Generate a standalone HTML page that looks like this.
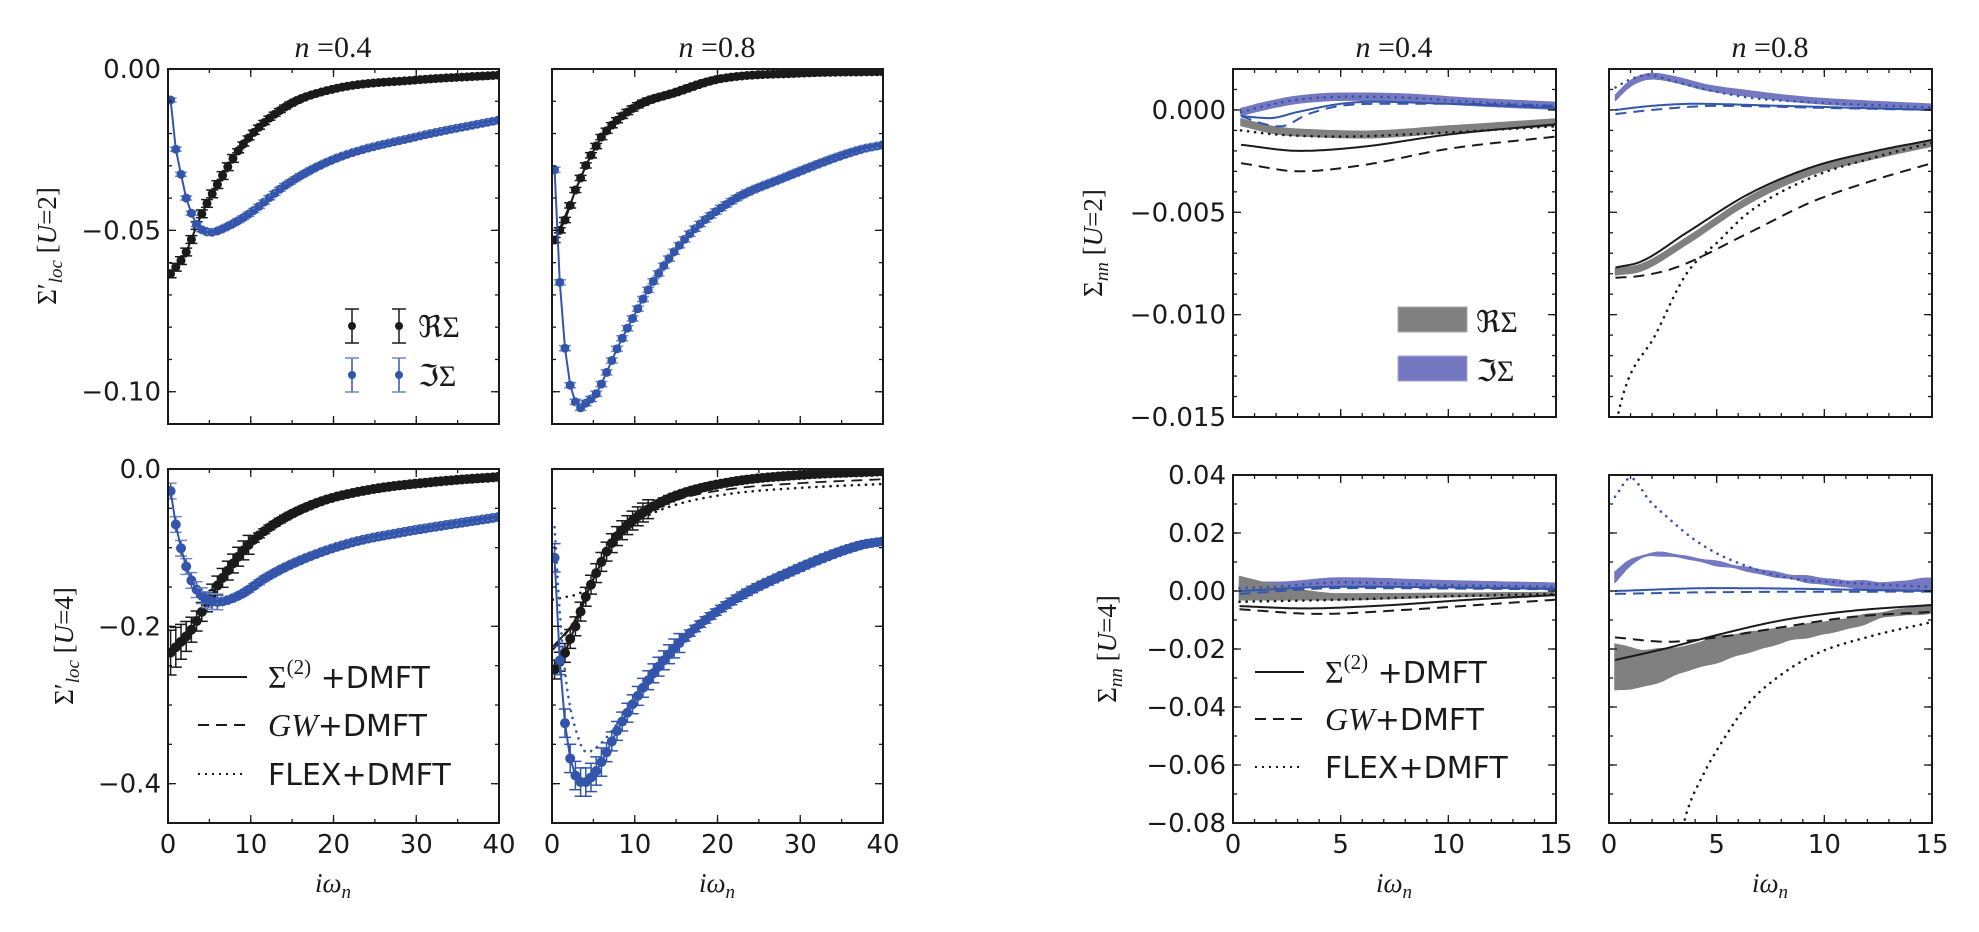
<!DOCTYPE html>
<html><head><meta charset="utf-8"><style>
html,body{margin:0;padding:0;background:#fff;}
svg{display:block;}
.tl{font-family:"DejaVu Sans","Liberation Sans",sans-serif;font-size:26px;fill:#1a1a1a;}
.sf{font-family:"Liberation Serif","DejaVu Serif",serif;fill:#1a1a1a;}
.lg{font-family:"DejaVu Sans","Liberation Sans",sans-serif;font-size:30px;fill:#1a1a1a;}
</style></head><body>
<svg id="s" width="1979" height="932" viewBox="0 0 1979 932" xmlns="http://www.w3.org/2000/svg">
<defs></defs>
<g id="data"></g>
<g id="frames"></g>
<g id="txt">
<text class="sf" x="333" y="57" font-size="30" text-anchor="middle"><tspan font-style="italic">n</tspan> =0.4</text>
<text class="sf" x="717" y="57" font-size="30" text-anchor="middle"><tspan font-style="italic">n</tspan> =0.8</text>
<text class="sf" x="1394" y="57" font-size="30" text-anchor="middle"><tspan font-style="italic">n</tspan> =0.4</text>
<text class="sf" x="1770" y="57" font-size="30" text-anchor="middle"><tspan font-style="italic">n</tspan> =0.8</text>
<text class="sf" font-size="27" text-anchor="middle" transform="translate(56,246) rotate(-90)">Σ′<tspan font-style="italic" font-size="19" dy="6">loc</tspan><tspan dy="-6"> [</tspan><tspan font-style="italic">U</tspan>=2]</text>
<text class="sf" font-size="27" text-anchor="middle" transform="translate(73,646) rotate(-90)">Σ′<tspan font-style="italic" font-size="19" dy="6">loc</tspan><tspan dy="-6"> [</tspan><tspan font-style="italic">U</tspan>=4]</text>
<text class="sf" font-size="27" text-anchor="middle" transform="translate(1102,243) rotate(-90)">Σ<tspan font-style="italic" font-size="19" dy="6">nn</tspan><tspan dy="-6"> [</tspan><tspan font-style="italic">U</tspan>=2]</text>
<text class="sf" font-size="27" text-anchor="middle" transform="translate(1116,649) rotate(-90)">Σ<tspan font-style="italic" font-size="19" dy="6">nn</tspan><tspan dy="-6"> [</tspan><tspan font-style="italic">U</tspan>=4]</text>
<text class="sf" x="333" y="892" font-size="27" text-anchor="middle" font-style="italic">iω<tspan font-size="19" dy="6">n</tspan></text>
<text class="sf" x="717" y="892" font-size="27" text-anchor="middle" font-style="italic">iω<tspan font-size="19" dy="6">n</tspan></text>
<text class="sf" x="1394" y="892" font-size="27" text-anchor="middle" font-style="italic">iω<tspan font-size="19" dy="6">n</tspan></text>
<text class="sf" x="1770" y="892" font-size="27" text-anchor="middle" font-style="italic">iω<tspan font-size="19" dy="6">n</tspan></text>
<line x1="198" y1="677" x2="247" y2="677" stroke="#1a1a1a" stroke-width="2"/>
<line x1="198" y1="725" x2="247" y2="725" stroke="#1a1a1a" stroke-width="2" stroke-dasharray="11,7"/>
<line x1="198" y1="774" x2="247" y2="774" stroke="#1a1a1a" stroke-width="2" stroke-dasharray="2,5"/>
<text class="lg" x="268" y="688"><tspan class="sf" font-size="32">Σ</tspan><tspan class="sf" font-size="21" dy="-14">(2)</tspan><tspan dy="14"> +DMFT</tspan></text>
<text class="lg" x="268" y="736"><tspan class="sf" font-style="italic" font-size="32">GW</tspan>+DMFT</text>
<text class="lg" x="268" y="785">FLEX+DMFT</text>
<line x1="1255" y1="672" x2="1304" y2="672" stroke="#1a1a1a" stroke-width="2"/>
<line x1="1255" y1="719" x2="1304" y2="719" stroke="#1a1a1a" stroke-width="2" stroke-dasharray="11,7"/>
<line x1="1255" y1="767" x2="1304" y2="767" stroke="#1a1a1a" stroke-width="2" stroke-dasharray="2,5"/>
<text class="lg" x="1325" y="683"><tspan class="sf" font-size="32">Σ</tspan><tspan class="sf" font-size="21" dy="-14">(2)</tspan><tspan dy="14"> +DMFT</tspan></text>
<text class="lg" x="1325" y="730"><tspan class="sf" font-style="italic" font-size="32">GW</tspan>+DMFT</text>
<text class="lg" x="1325" y="778">FLEX+DMFT</text>
<rect x="1398" y="307" width="69" height="25" fill="#808080" stroke="#aaa" stroke-width="1"/>
<rect x="1398" y="356" width="69" height="25" fill="#7478c0" stroke="#a0a4e0" stroke-width="1"/>
<text class="sf" x="1476" y="332" font-size="30">ℜΣ</text>
<text class="sf" x="1476" y="381" font-size="30">ℑΣ</text>
<text class="sf" x="418" y="337" font-size="30">ℜΣ</text>
<text class="sf" x="418" y="386" font-size="30">ℑΣ</text>
</g>
</svg>
<script>
(function(){
var NS="http://www.w3.org/2000/svg";
var svg=document.getElementById('s'),gd=document.getElementById('data'),gf=document.getElementById('frames'),gt=document.getElementById('txt'),defs=svg.querySelector('defs');
function el(n,a,p){var e=document.createElementNS(NS,n);for(var k in a)e.setAttribute(k,a[k]);(p||gd).appendChild(e);return e;}
var BK="#1a1a1a",BL="#3355aa",BLL="#6f86c8",GB="#808080",BB="#7478c0";
var P={
A:{x0:168,x1:499,xa:0,xb:40,y0:69,y1:424,ya:0,yb:-0.11},
B:{x0:552,x1:883,xa:0,xb:40,y0:69,y1:424,ya:0,yb:-0.11},
C:{x0:168,x1:499,xa:0,xb:40,y0:469,y1:823,ya:0,yb:-0.45},
D:{x0:552,x1:883,xa:0,xb:40,y0:469,y1:823,ya:0,yb:-0.45},
E:{x0:1233,x1:1556,xa:0,xb:15,y0:69,y1:417,ya:0.002,yb:-0.015},
F:{x0:1609,x1:1932,xa:0,xb:15,y0:69,y1:417,ya:0.002,yb:-0.015},
G:{x0:1233,x1:1556,xa:0,xb:15,y0:475,y1:823,ya:0.04,yb:-0.08},
H:{x0:1609,x1:1932,xa:0,xb:15,y0:475,y1:823,ya:0.04,yb:-0.08}};
function X(p,x){return p.x0+(x-p.xa)/(p.xb-p.xa)*(p.x1-p.x0);}
function Y(p,y){return p.y0+(p.ya-y)/(p.ya-p.yb)*(p.y1-p.y0);}
function interp(pts){
 var n=pts.length,xs=pts.map(a=>a[0]),ys=pts.map(a=>a[1]),d=[],m=[];
 for(var i=0;i<n-1;i++)d.push((ys[i+1]-ys[i])/(xs[i+1]-xs[i]));
 m[0]=d[0];m[n-1]=d[n-2];
 for(i=1;i<n-1;i++){m[i]=(d[i-1]*d[i]<=0)?0:(d[i-1]+d[i])/2;}
 for(i=0;i<n-1;i++){if(d[i]===0){m[i]=0;m[i+1]=0;continue;}var a=m[i]/d[i],b=m[i+1]/d[i],s=a*a+b*b;if(s>9){var t=3/Math.sqrt(s);m[i]=t*a*d[i];m[i+1]=t*b*d[i];}}
 return function(x){
  if(x<=xs[0])return ys[0]+m[0]*(x-xs[0]);
  if(x>=xs[n-1])return ys[n-1]+m[n-1]*(x-xs[n-1]);
  var k=0;while(x>xs[k+1])k++;
  var h=xs[k+1]-xs[k],t=(x-xs[k])/h,t2=t*t,t3=t2*t;
  return (2*t3-3*t2+1)*ys[k]+(t3-2*t2+t)*h*m[k]+(-2*t3+3*t2)*ys[k+1]+(t3-t2)*h*m[k+1];
 };}
var cid=0;
function clip(p){var id='c'+(cid++);var c=el('clipPath',{id:id},defs);el('rect',{x:p.x0,y:p.y0,width:p.x1-p.x0,height:p.y1-p.y0},c);return 'url(#'+id+')';}
for(var k in P)P[k].clip=clip(P[k]);
function curve(p,pts,x0,x1,st,col,w){
 var f=interp(pts),d='',N=300;x0=x0==null?pts[0][0]:x0;x1=x1==null?pts[pts.length-1][0]:x1;
 for(var i=0;i<=N;i++){var x=x0+(x1-x0)*i/N;d+=(i?'L':'M')+X(p,x).toFixed(1)+','+Y(p,f(x)).toFixed(1);}
 var a={d:d,fill:'none',stroke:col,'stroke-width':w||2,'clip-path':p.clip,'stroke-linejoin':'round'};
 if(st==='dash')a['stroke-dasharray']='11,7';
 if(st==='dot'){a['stroke-dasharray']='0.1,7';a['stroke-linecap']='round';a['stroke-width']=2.6;}
 el('path',a);}
function band(p,up,lo,col,jit){
 var fu=interp(up),fl=interp(lo),x0=Math.max(up[0][0],lo[0][0]),x1=Math.min(up[up.length-1][0],lo[lo.length-1][0]),N=60,a=[],b=[];
 for(var i=0;i<=N;i++){var x=x0+(x1-x0)*i/N,j=jit?jit*Math.sin(i*0.9)*Math.sin(i*0.23):0;a.push(X(p,x).toFixed(1)+','+Y(p,fu(x)+j).toFixed(1));b.push(X(p,x).toFixed(1)+','+Y(p,fl(x)-j).toFixed(1));}
 el('path',{d:'M'+a.join('L')+'L'+b.reverse().join('L')+'Z',fill:col,stroke:col,'stroke-width':1.5,'stroke-linejoin':'round','clip-path':p.clip});}
function bandc(p,c,hw,col,jit){var up=c.map(a=>[a[0],a[1]+hw]),lo=c.map(a=>[a[0],a[1]-hw]);band(p,up,lo,col,jit);}
function qmc(p,pts,col,capcol,errf,r){
 var f=interp(pts);var d='';
 for(var n=0;;n++){var x=(2*n+1)*Math.PI/10;if(x>40)break;
  var px=X(p,x),v=f(x),py=Y(p,v),e=errf(x),ey=Math.max(Math.abs(Y(p,v+e)-py),2);
  if(n>0)d+='L';else d+='M';d+=px.toFixed(1)+','+py.toFixed(1);
  el('line',{x1:px,y1:py-ey,x2:px,y2:py+ey,stroke:col,'stroke-width':1.5,'clip-path':p.clip});
  el('line',{x1:px-6,y1:py-ey,x2:px+6,y2:py-ey,stroke:capcol,'stroke-width':1.5,'clip-path':p.clip});
  el('line',{x1:px-6,y1:py+ey,x2:px+6,y2:py+ey,stroke:capcol,'stroke-width':1.5,'clip-path':p.clip});
  el('circle',{cx:px,cy:py,r:r||4.3,fill:col,'clip-path':p.clip});}
 el('path',{d:d,fill:'none',stroke:col,'stroke-width':2,'clip-path':p.clip});}
var A=P.A,Bp=P.B,C=P.C,D=P.D;
var Are=[[0.31,-0.0635],[2.2,-0.0567],[3.7,-0.047],[5.6,-0.0375],[9,-0.0236],[14.2,-0.0117],[20,-0.0062],[30,-0.0034],[40,-0.0019]];
var Aim=[[0.31,-0.0095],[0.85,-0.0232],[1.6,-0.033],[2.2,-0.040],[2.8,-0.0445],[3.4,-0.048],[5.2,-0.0506],[7,-0.049],[9.9,-0.0447],[14.2,-0.036],[20,-0.028],[30,-0.021],[40,-0.0158]];
qmc(A,Are,BK,BK,function(x){return x<8?0.0012:0.0006;},4.5);
qmc(A,Aim,BL,BLL,function(x){return 0.0006;},4.5);
var Bre=[[0.31,-0.053],[0.94,-0.050],[1.7,-0.046],[2.3,-0.0415],[2.9,-0.037],[3.5,-0.0335],[4.1,-0.0298],[5.4,-0.0236],[6.0,-0.021],[10,-0.0118],[15,-0.0072],[20,-0.0032],[30,-0.0013],[40,-0.0008]];
var Bim=[[0.31,-0.031],[0.94,-0.066],[1.57,-0.0865],[2.2,-0.098],[2.8,-0.103],[3.5,-0.105],[4.1,-0.1035],[5.4,-0.1004],[6.6,-0.094],[7.8,-0.087],[9.8,-0.077],[12.2,-0.066],[16.3,-0.052],[21.9,-0.0406],[27.9,-0.0338],[37.2,-0.025],[40,-0.0235]];
curve(Bp,[[0.31,-0.053],[6,-0.021],[10,-0.0118],[13,-0.0085],[16,-0.0068],[20,-0.0035],[30,-0.0013],[40,-0.0008]],null,null,'solid',BK,1.5);
qmc(Bp,Bre,BK,BK,function(x){return 0.0008;},4.5);
qmc(Bp,Bim,BL,BLL,function(x){return 0.0008;},4.5);
var Cre=[[0.26,-0.234],[1.45,-0.221],[2.65,-0.207],[3.85,-0.186],[5.07,-0.163],[7.1,-0.131],[9.5,-0.099],[12.7,-0.071],[18,-0.043],[24,-0.027],[32,-0.0165],[40,-0.010]];
var Cim=[[0.3,-0.027],[0.95,-0.071],[1.6,-0.102],[2.2,-0.124],[2.8,-0.141],[3.5,-0.154],[4.7,-0.166],[5.9,-0.169],[8.7,-0.160],[12,-0.137],[16,-0.116],[22,-0.094],[28,-0.081],[40,-0.061]];
qmc(C,Cre,BK,BK,function(x){return x<4?0.03-0.005*x:(x<10?0.012:0.003);},5);
qmc(C,Cim,BL,BLL,function(x){return x<6?0.01:0.003;},5);
var Dre=[[0.31,-0.255],[0.94,-0.245],[1.56,-0.234],[2.2,-0.216],[2.9,-0.198],[3.5,-0.18],[4.1,-0.162],[4.8,-0.145],[5.4,-0.131],[6.6,-0.105],[7.8,-0.086],[9.8,-0.065],[11.8,-0.050],[15.8,-0.031],[21.9,-0.016],[30,-0.0076],[40,-0.003]];
var Dim=[[0.31,-0.112],[0.94,-0.243],[1.57,-0.323],[2.2,-0.368],[2.8,-0.389],[3.5,-0.398],[4.1,-0.398],[4.8,-0.391],[5.4,-0.383],[6.0,-0.372],[6.6,-0.36],[7.8,-0.334],[9.8,-0.298],[11.8,-0.266],[15.8,-0.217],[21.9,-0.167],[27.9,-0.135],[37.2,-0.097],[40,-0.092]];
curve(D,[[0.1,-0.226],[1.5,-0.21],[2.9,-0.19],[4.1,-0.16],[5.4,-0.131],[6.6,-0.105],[7.8,-0.086],[9.8,-0.065],[11.8,-0.050],[15.8,-0.031],[21.9,-0.017],[30,-0.008],[40,-0.004]],null,null,'solid',BK,1.8);
curve(D,[[0.1,-0.23],[1.5,-0.212],[2.9,-0.19],[4.1,-0.16],[5.4,-0.131],[6.6,-0.106],[7.8,-0.088],[9.8,-0.067],[11.8,-0.054],[15.8,-0.037],[21.9,-0.025],[30,-0.018],[40,-0.013]],null,null,'dash',BK,1.8);
curve(D,[[0.1,-0.166],[1.5,-0.163],[2.8,-0.16],[4.1,-0.152],[5.4,-0.128],[6.6,-0.106],[7.8,-0.089],[9.8,-0.071],[11.8,-0.058],[15.8,-0.043],[21.9,-0.031],[30,-0.024],[40,-0.019]],null,null,'dot',BK);
curve(D,[[0.31,-0.074],[1.0,-0.19],[1.8,-0.277],[3.0,-0.336],[4.2,-0.36],[5.8,-0.35],[7.8,-0.325],[9.8,-0.295],[11.8,-0.266],[15.8,-0.217],[21.9,-0.167],[27.9,-0.135],[40,-0.092]],null,null,'dot',BL);
qmc(D,Dre,BK,BK,function(x){return x<3?0.012:(x<12?0.012:0.004);},5);
qmc(D,Dim,BL,BL,function(x){return x<6?0.018:(x<16?0.012:0.004);},5);
var E=P.E;
bandc(E,[[0.37,-0.0001],[1.5,0.0002],[3,0.0005],[5.4,0.00065],[8,0.0006],[11,0.0004],[15,0.0002]],0.00017,BB);
bandc(E,[[0.37,-0.0006],[2,-0.001],[4,-0.00115],[6,-0.0012],[10,-0.00095],[15,-0.0006]],0.00016,GB);
curve(E,[[0.37,-0.0001],[1.5,0.0002],[3,0.0005],[5.4,0.00065],[8,0.0006],[11,0.0004],[15,0.0002]],null,null,'dot',BL);
curve(E,[[0.37,-0.0003],[1.7,-0.0004],[3,-0.0001],[5,0.0003],[6.5,0.0004],[10,0.0003],[15,0.0001]],null,null,'solid',BL);
curve(E,[[0.37,-0.0003],[1.5,-0.0007],[2.2,-0.0008],[3.5,-0.0002],[5,0.0002],[7,0.0003],[10,0.0003],[15,0.0002]],null,null,'dash',BL);
curve(E,[[0.37,-0.001],[2,-0.0012],[5,-0.0013],[8,-0.0012],[15,-0.0008]],null,null,'dot',BK);
curve(E,[[0.37,-0.0017],[3.1,-0.002],[6,-0.0018],[10,-0.0012],[15,-0.0007]],null,null,'solid',BK);
curve(E,[[0.37,-0.0026],[3.1,-0.0030],[6,-0.0027],[10,-0.0019],[15,-0.0013]],null,null,'dash',BK);
var F=P.F;
bandc(F,[[0.3,0.0006],[1,0.0013],[2,0.00165],[3,0.0015],[4.5,0.0011],[6.5,0.0008],[9,0.0005],[12,0.0003],[15,0.00015]],0.00013,BB);
bandc(F,[[0.3,-0.0079],[1.5,-0.0077],[3.6,-0.0064],[6.5,-0.0044],[9.4,-0.003],[12.4,-0.0022],[15,-0.0016]],0.00016,GB);
curve(F,[[0.3,0.0011],[1,0.0015],[1.8,0.0017],[3,0.0014],[4.5,0.001],[6.5,0.0006],[9,0.0004],[15,0.00012]],null,null,'dot',BL);
curve(F,[[0.3,0],[2,0.0002],[4,0.0003],[8,0.0002],[15,0.0]],null,null,'solid',BL);
curve(F,[[0.3,-0.0002],[2,0.0],[5,0.0002],[10,0.0001],[15,0.0]],null,null,'dash',BL);
curve(F,[[0.3,-0.0077],[1.5,-0.0074],[3.6,-0.0060],[6.5,-0.0041],[9.4,-0.0028],[12.4,-0.002],[15,-0.00147]],null,null,'solid',BK);
curve(F,[[0.3,-0.0082],[1.5,-0.0081],[3.1,-0.0077],[6.5,-0.006],[9.4,-0.0045],[12.4,-0.0034],[15,-0.0026]],null,null,'dash',BK);
curve(F,[[0.2,-0.0165],[0.46,-0.0147],[2.2,-0.0109],[3.6,-0.008],[5.1,-0.0064],[6.5,-0.005],[9.4,-0.0033],[12.4,-0.0023],[15,-0.0016]],null,null,'dot',BK);
var G=P.G;
band(G,[[0.3,0.003],[2,0.003],[5,0.0045],[10,0.0035],[15,0.0027]],[[0.3,-0.003],[1,-0.002],[2,0.0],[5,0.002],[10,0.0015],[15,0.0005]],BB);
band(G,[[0.3,0.005],[2,0.002],[5,-0.001],[10,-0.0008],[15,-0.0005]],[[0.3,-0.003],[2,-0.003],[5,-0.003],[10,-0.002],[15,-0.0015]],GB);
curve(G,[[0.3,0.001],[2,0.0015],[5,0.003],[10,0.002],[15,0.0015]],null,null,'dot',BL);
curve(G,[[0.3,0.0],[5,0.0015],[15,0.0008]],null,null,'solid',BL);
curve(G,[[0.3,-0.001],[5,0.001],[15,0.0006]],null,null,'dash',BL);
curve(G,[[0.3,-0.0037],[5,-0.003],[10,-0.0018],[15,-0.001]],null,null,'dot',BK);
curve(G,[[0.3,-0.0052],[3.3,-0.006],[7,-0.005],[11,-0.003],[15,-0.0014]],null,null,'solid',BK);
curve(G,[[0.3,-0.0063],[4,-0.0079],[8,-0.0065],[12,-0.0045],[15,-0.003]],null,null,'dash',BK);
var H=P.H;
band(H,[[0.28,0.0066],[1.0,0.0107],[2.2,0.0131],[5,0.010],[8.1,0.006],[11.2,0.0035],[13,0.003],[15,0.0045]],[[0.28,0.003],[1.0,0.009],[2.2,0.0124],[5,0.009],[8.1,0.0045],[11.2,0.0012],[13,0.0],[15,0.0003]],BB,0.0003);
band(H,[[0.28,-0.0183],[1.6,-0.0203],[3.4,-0.0193],[5,-0.016],[8.1,-0.0128],[11.2,-0.0093],[12.8,-0.0072],[15,-0.0048]],[[0.28,-0.034],[1.6,-0.033],[3.4,-0.028],[5,-0.0245],[8.1,-0.0176],[11.2,-0.0128],[12.8,-0.009],[15,-0.0076]],GB,0.0003);
curve(H,[[0.28,0.0325],[1.0,0.039],[1.9,0.031],[2.7,0.0255],[3.8,0.0186],[5,0.013],[6.5,0.0083],[8.1,0.0048],[11.2,0.0028],[15,0.0014]],null,null,'dot',BL);
curve(H,[[0.28,0],[5,0.001],[15,0]],null,null,'solid',BL);
curve(H,[[0.28,-0.001],[5,-0.0004],[15,-0.0002]],null,null,'dash',BL);
curve(H,[[0.28,-0.0238],[2.7,-0.0197],[5,-0.0152],[8.1,-0.010],[11.2,-0.0069],[15,-0.0048]],null,null,'solid',BK);
curve(H,[[0.28,-0.016],[2.7,-0.0175],[5,-0.016],[8.1,-0.0124],[11.2,-0.009],[15,-0.0072]],null,null,'dash',BK);
curve(H,[[3.3,-0.086],[3.6,-0.0766],[4.4,-0.063],[5.3,-0.0514],[6.5,-0.0386],[8.1,-0.0283],[9.7,-0.0214],[12,-0.0159],[15,-0.0107]],null,null,'dot',BK);
[[352,326,BK,BK],[399,326,BK,BK],[352,375,BL,BLL],[399,375,BL,BLL]].forEach(function(m){
 el('line',{x1:m[0],y1:m[1]-17,x2:m[0],y2:m[1]+17,stroke:m[2],'stroke-width':1.5},gt);
 el('line',{x1:m[0]-7,y1:m[1]-17,x2:m[0]+7,y2:m[1]-17,stroke:m[3],'stroke-width':1.5},gt);
 el('line',{x1:m[0]-7,y1:m[1]+17,x2:m[0]+7,y2:m[1]+17,stroke:m[3],'stroke-width':1.5},gt);
 el('circle',{cx:m[0],cy:m[1],r:4,fill:m[2]},gt);});
function frame(p,xmaj,xmin,ymaj,ymin,ylab,xlab,yfmt){
 el('rect',{x:p.x0,y:p.y0,width:p.x1-p.x0,height:p.y1-p.y0,fill:'none',stroke:BK,'stroke-width':2},gf);
 function tk(v,len,isx){if(isx){var x=X(p,v);if(x<p.x0-0.5||x>p.x1+0.5)return;el('line',{x1:x,y1:p.y1,x2:x,y2:p.y1-len,stroke:BK,'stroke-width':1.3},gf);el('line',{x1:x,y1:p.y0,x2:x,y2:p.y0+len,stroke:BK,'stroke-width':1.3},gf);}
  else{var y=Y(p,v);if(y<p.y0-0.5||y>p.y1+0.5)return;el('line',{x1:p.x0,y1:y,x2:p.x0+len,y2:y,stroke:BK,'stroke-width':1.3},gf);el('line',{x1:p.x1,y1:y,x2:p.x1-len,y2:y,stroke:BK,'stroke-width':1.3},gf);}}
 var v;
 for(v=p.xa;v<=p.xb+1e-9;v+=xmin)tk(v,4,true);
 for(v=p.xa;v<=p.xb+1e-9;v+=xmaj){tk(v,8,true);if(xlab){var t=el('text',{x:X(p,v),y:853,'text-anchor':'middle','class':'tl'},gt);t.textContent=String(Math.round(v));}}
 var lo=Math.min(p.ya,p.yb),hi=Math.max(p.ya,p.yb);
 for(v=Math.ceil(lo/ymin-1e-6)*ymin;v<=hi+1e-9;v+=ymin)tk(v,4,false);
 for(v=Math.ceil(lo/ymaj-1e-6)*ymaj;v<=hi+1e-9;v+=ymaj){tk(v,8,false);if(ylab){var t2=el('text',{x:p.x0-7,y:Y(p,v)+9,'text-anchor':'end','class':'tl'},gt);var s=Math.abs(v)<1e-12?(0).toFixed(yfmt):Math.abs(v).toFixed(yfmt);t2.textContent=(v<-1e-12?'−':'')+s;}}
}
frame(P.A,10,5,0.05,0.01,true,false,2);
frame(P.B,10,5,0.05,0.01,false,false,2);
frame(P.C,10,5,0.2,0.05,true,true,1);
frame(P.D,10,5,0.2,0.05,false,true,1);
frame(P.E,5,1,0.005,0.001,true,false,3);
frame(P.F,5,1,0.005,0.001,false,false,3);
frame(P.G,5,1,0.02,0.01,true,true,2);
frame(P.H,5,1,0.02,0.01,false,true,2);
})();
</script>
</body></html>
